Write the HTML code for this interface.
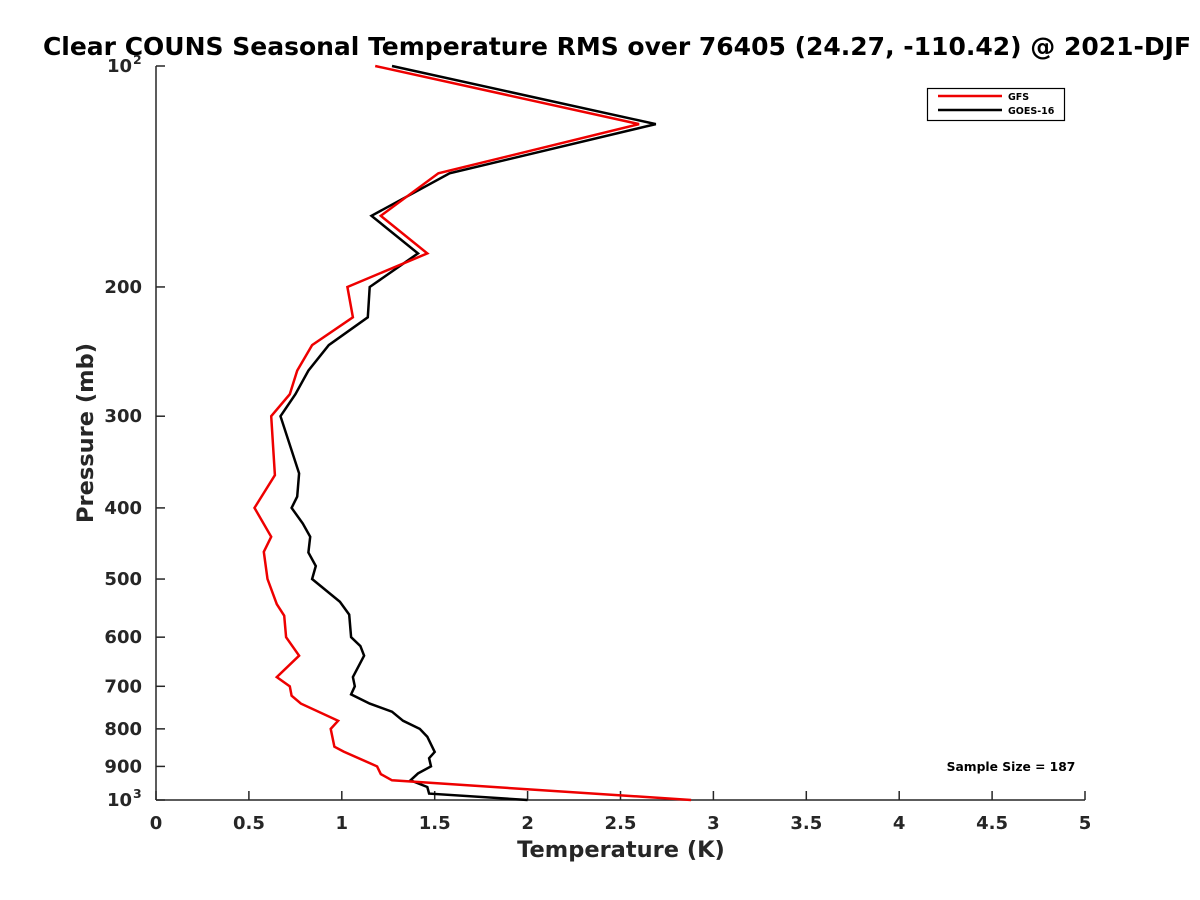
<!DOCTYPE html>
<html><head><meta charset="utf-8"><style>
body{margin:0;background:#fff}
svg{display:block;font-family:"DejaVu Sans","Liberation Sans",sans-serif;font-weight:bold}
</style></head><body>
<svg id="chart" width="1200" height="900" viewBox="0 0 1200 900">
<text x="617" y="55" text-anchor="middle" font-size="25" fill="#000">Clear COUNS Seasonal Temperature RMS over 76405 (24.27, -110.42) @ 2021-DJF</text>
<g id="axes"></g>
<g id="series"></g>
<g>
<rect x="927.5" y="88.5" width="137" height="32" fill="#fff" stroke="#000" stroke-width="1.2"/>
<line x1="938" y1="96" x2="1002" y2="96" stroke="#e00" stroke-width="2.5"/>
<line x1="938" y1="110" x2="1002" y2="110" stroke="#000" stroke-width="2.5"/>
<text x="1008" y="100" font-size="9.5">GFS</text>
<text x="1008" y="114" font-size="9.5">GOES-16</text>
</g>
<text x="1011" y="771" text-anchor="middle" font-size="12.3">Sample Size = 187</text>
<text x="621" y="857" text-anchor="middle" font-size="22.5" fill="#262626">Temperature (K)</text>
<text transform="translate(93,433) rotate(-90)" text-anchor="middle" font-size="22.5" fill="#262626">Pressure (mb)</text>
</svg>
<script>
const xTicks = [0,0.5,1,1.5,2,2.5,3,3.5,4,4.5,5];
const xTickLabels = ["0","0.5","1","1.5","2","2.5","3","3.5","4","4.5","5"];
const yTicks = [100,200,300,400,500,600,700,800,900,1000];
const yTickLabels = ["10^2","200","300","400","500","600","700","800","900","10^3"];
const gfsPressure = [100,120,140,160,180,200,220,240,260,280,300,361,400,438,459,500,541,561,600,636,680,700,721,739,780,800,846,859,900,922,940,1000];
const gfsValues = [1.18,2.60,1.52,1.21,1.46,1.03,1.06,0.84,0.76,0.72,0.62,0.64,0.53,0.62,0.58,0.60,0.65,0.69,0.70,0.77,0.65,0.72,0.73,0.78,0.98,0.94,0.96,1.01,1.19,1.21,1.27,2.88];
const goesPressure = [100,120,140,160,180,200,220,240,260,280,300,359,386,400,420,438,460,480,500,537,559,600,617,636,680,700,718,739,758,780,800,820,860,877,900,920,940,960,980,1000];
const goesValues = [1.27,2.69,1.58,1.16,1.41,1.15,1.14,0.93,0.82,0.75,0.67,0.77,0.76,0.73,0.79,0.83,0.82,0.86,0.84,0.99,1.04,1.05,1.10,1.12,1.06,1.07,1.05,1.15,1.27,1.33,1.42,1.46,1.50,1.47,1.48,1.41,1.37,1.46,1.47,2.00];

const X0=156,X1=1085,Y0=66,Y1=800;
function xs(v){return X0+(v-0)/(5-0)*(X1-X0);}
function ys(p){return Y0+(Math.log10(p)-2)*(Y1-Y0);}
const NS="http://www.w3.org/2000/svg";
const axes=document.getElementById('axes');
function mk(tag,attrs,parent){const e=document.createElementNS(NS,tag);for(const k in attrs)e.setAttribute(k,attrs[k]);parent.appendChild(e);return e;}
const xa=mk('line',{x1:X0,y1:Y1,x2:X1,y2:Y1,stroke:'#262626','stroke-width':1.5},axes);


const ya=mk('line',{x1:X0,y1:Y0,x2:X0,y2:Y1,stroke:'#262626','stroke-width':1.5},axes);


xTicks.forEach((v,i)=>{
  const x=xs(v);
  mk('line',{x1:x,y1:Y1,x2:x,y2:Y1-9,stroke:'#262626','stroke-width':1.5},axes);
  const t=mk('text',{x:x,y:829,'text-anchor':'middle','font-size':18,fill:'#262626'},axes);
  t.textContent=xTickLabels[i];
  
  
});
yTicks.forEach((p,i)=>{
  const y=ys(p);
  mk('line',{x1:X0,y1:y,x2:X0+9,y2:y,stroke:'#262626','stroke-width':1.5},axes);
  const lab=yTickLabels[i];
  const t=mk('text',{x:142,y:y+6,'text-anchor':'end','font-size':18,fill:'#262626'},axes);
  
  
  if(lab.indexOf('^')>0){
    const [b,e]=lab.split('^');
    t.textContent=b;
    t.setAttribute('x',132);
    const s=mk('text',{x:133,y:y-2,'text-anchor':'start','font-size':12.5,fill:'#262626'},axes);
    s.textContent=e;
    
    
  } else t.textContent=lab;
});
const series=document.getElementById('series');
function draw(pr,vals,color,name){
  const pts=pr.map((p,i)=>xs(vals[i]).toFixed(1)+','+ys(p).toFixed(1)).join(' ');
  const pl=mk('polyline',{points:pts,fill:'none',stroke:color,'stroke-width':2.5,'stroke-linejoin':'miter'},series);
  
  
}
draw(goesPressure,goesValues,'#000','goes16-line');
draw(gfsPressure,gfsValues,'#e00','gfs-line');
</script>
</body></html>
